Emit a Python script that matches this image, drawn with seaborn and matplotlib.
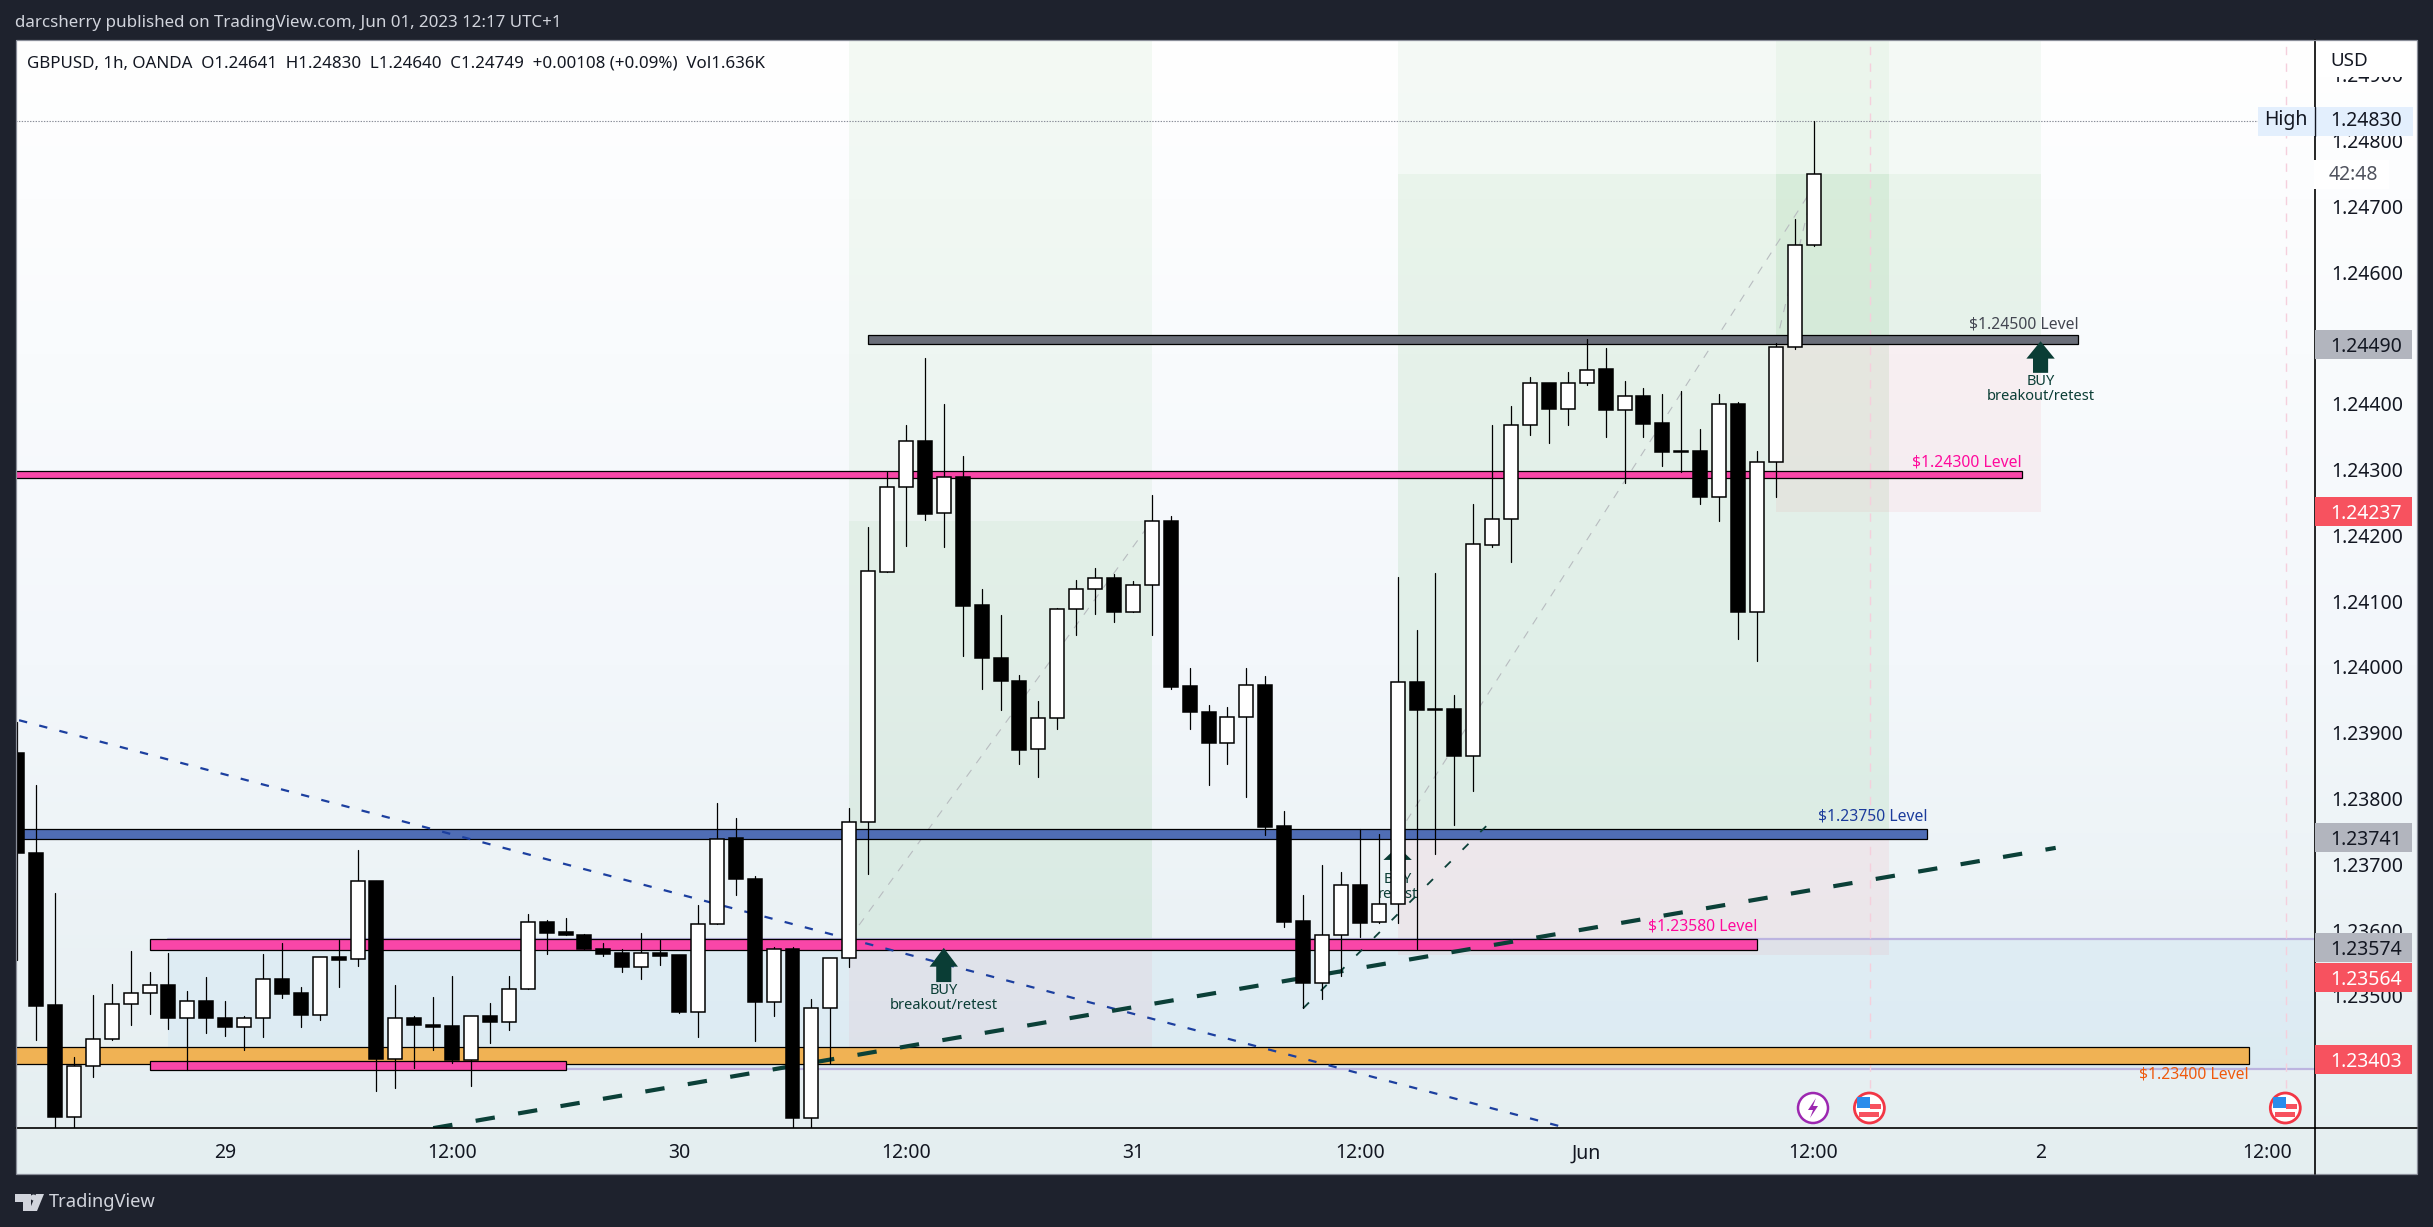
import numpy as np
import pandas as pd
import matplotlib
matplotlib.use("Agg")
import matplotlib.pyplot as plt
from matplotlib.patches import Rectangle, Circle, Polygon
import seaborn as sns

# hourly candles, bar 0 is 29 May 00:00
bars = list(range(-11, 85))
opens = [1.23869, 1.23717, 1.23486, 1.23316, 1.23394, 1.23435, 1.23487, 1.23505, 1.23516, 1.23467, 1.23492,
         1.23467, 1.23453, 1.23467, 1.23525, 1.23504, 1.23471, 1.23559, 1.23556, 1.23674, 1.23404, 1.23466, 1.23456,
         1.23454, 1.23403, 1.23469, 1.23461, 1.23511, 1.23613, 1.23597, 1.23592, 1.23571, 1.23565, 1.23544, 1.23565,
         1.23562, 1.23476, 1.23610, 1.23740, 1.23677, 1.23491, 1.23571, 1.23315, 1.23481, 1.23557, 1.23764, 1.24145,
         1.24273, 1.24343, 1.24234, 1.24289, 1.24094, 1.24013, 1.23978, 1.23875, 1.23922, 1.24088, 1.24118, 1.24135,
         1.24083, 1.24124, 1.24222, 1.23971, 1.23931, 1.23884, 1.23924, 1.23972, 1.23758, 1.23614, 1.23520, 1.23593,
         1.23668, 1.23612, 1.23639, 1.23977, 1.23936, 1.23936, 1.23865, 1.24186, 1.24225, 1.24368, 1.24432, 1.24392,
         1.24431, 1.24453, 1.24391, 1.24412, 1.24371, 1.24328, 1.24328, 1.24259, 1.24399, 1.24083, 1.24311, 1.24487,
         1.24641]
closes = [1.23717, 1.23485, 1.23316, 1.23394, 1.23435, 1.23487, 1.23505, 1.23516, 1.23467, 1.23492, 1.23467,
          1.23453, 1.23467, 1.23525, 1.23503, 1.23471, 1.23559, 1.23555, 1.23674, 1.23404, 1.23466, 1.23455, 1.23453,
          1.23403, 1.23469, 1.23461, 1.23511, 1.23613, 1.23596, 1.23592, 1.23571, 1.23564, 1.23544, 1.23565, 1.23561,
          1.23476, 1.23610, 1.23738, 1.23677, 1.23491, 1.23571, 1.23315, 1.23481, 1.23557, 1.23764, 1.24146, 1.24273,
          1.24343, 1.24233, 1.24289, 1.24093, 1.24013, 1.23978, 1.23874, 1.23922, 1.24088, 1.24118, 1.24135, 1.24083,
          1.24124, 1.24222, 1.23970, 1.23931, 1.23884, 1.23924, 1.23972, 1.23757, 1.23613, 1.23520, 1.23593, 1.23668,
          1.23611, 1.23639, 1.23977, 1.23934, 1.23934, 1.23865, 1.24187, 1.24225, 1.24368, 1.24432, 1.24392, 1.24432,
          1.24452, 1.24390, 1.24412, 1.24370, 1.24326, 1.24326, 1.24259, 1.24399, 1.24083, 1.24311, 1.24487, 1.24641,
          1.24749]
highs = [1.23917, 1.23821, 1.23657, 1.23407, 1.23501, 1.23518, 1.23568, 1.23537, 1.23565, 1.23507, 1.23528,
         1.23492, 1.23469, 1.23564, 1.23580, 1.23513, 1.23559, 1.23585, 1.23722, 1.23674, 1.23516, 1.23469, 1.23499,
         1.23530, 1.23469, 1.23489, 1.23530, 1.23624, 1.23615, 1.23618, 1.23594, 1.23580, 1.23572, 1.23595, 1.23585,
         1.23562, 1.23638, 1.23793, 1.23771, 1.23682, 1.23574, 1.23574, 1.23495, 1.23557, 1.23785, 1.24213, 1.24296,
         1.24367, 1.24469, 1.24400, 1.24321, 1.24119, 1.24079, 1.23988, 1.23948, 1.24090, 1.24132, 1.24151, 1.24141,
         1.24131, 1.24262, 1.24230, 1.23999, 1.23942, 1.23939, 1.23999, 1.23986, 1.23781, 1.23653, 1.23699, 1.23689,
         1.23753, 1.23746, 1.24137, 1.24056, 1.24143, 1.23958, 1.24248, 1.24368, 1.24397, 1.24441, 1.24432, 1.24449,
         1.24499, 1.24485, 1.24434, 1.24424, 1.24415, 1.24419, 1.24362, 1.24415, 1.24403, 1.24328, 1.24493, 1.24681,
         1.24830]
lows = [1.23554, 1.23433, 1.23281, 1.23281, 1.23376, 1.23433, 1.23455, 1.23472, 1.23450, 1.23388, 1.23444,
        1.23439, 1.23417, 1.23438, 1.23497, 1.23452, 1.23463, 1.23514, 1.23545, 1.23356, 1.23360, 1.23391, 1.23418,
        1.23398, 1.23363, 1.23429, 1.23448, 1.23511, 1.23564, 1.23592, 1.23571, 1.23560, 1.23537, 1.23526, 1.23547,
        1.23474, 1.23438, 1.23610, 1.23653, 1.23432, 1.23469, 1.23281, 1.23281, 1.23397, 1.23544, 1.23686, 1.24145,
        1.24184, 1.24224, 1.24183, 1.24017, 1.23967, 1.23934, 1.23853, 1.23832, 1.23906, 1.24048, 1.24081, 1.24069,
        1.24083, 1.24049, 1.23967, 1.23905, 1.23821, 1.23853, 1.23803, 1.23745, 1.23604, 1.23481, 1.23496, 1.23530,
        1.23590, 1.23611, 1.23611, 1.23571, 1.23716, 1.23759, 1.23812, 1.24183, 1.24160, 1.24353, 1.24341, 1.24368,
        1.24429, 1.24350, 1.24279, 1.24349, 1.24305, 1.24297, 1.24248, 1.24222, 1.24042, 1.24009, 1.24258, 1.24483,
        1.24640]

# time axis
time_ticks = [0, 12, 24, 36, 48, 60, 72, 84, 96, 108]
time_labels = ["29", "12:00", "30", "12:00", "31", "12:00", "Jun", "12:00", "2", "12:00"]
price_ticks = [1.235, 1.236, 1.237, 1.238, 1.239, 1.240, 1.241, 1.242, 1.243, 1.244, 1.245, 1.246, 1.247, 1.248, 1.249]

# horizontal level boxes: first bar, last bar, top, bottom
level_names = ["grey", "pink_hi", "blue", "pink_mid", "orange", "pink_lo"]
level_start = [34, -12, -12, -4, -12, -4]
level_end = [98, 95, 90, 81, 107, 18]
level_top = [1.24504, 1.24298, 1.23753, 1.23586, 1.23423, 1.23401]
level_bottom = [1.24491, 1.24287, 1.23739, 1.23570, 1.23396, 1.23388]
level_colors = ["#6a6e79", "#f946a8", "#4f6db5", "#f946a8", "#f0b254", "#f946a8"]
level_text = ["$1.24500 Level", "$1.24300 Level", "$1.23750 Level", "$1.23580 Level", "$1.23400 Level"]
level_text_price = [1.24521, 1.24311, 1.23773, 1.23605, 1.23380]
level_text_colors = ["#434651", "#ff0a9c", "#1c3c9c", "#ff0a9c", "#ef5a0c"]

# axis tags on the price scale
tag_values = ["1.24490", "1.24237", "1.23741", "1.23574", "1.23564", "1.23403"]
tag_prices = [1.24490, 1.24237, 1.23741, 1.23574, 1.23528, 1.23403]
tag_fill = ["#b2b5be", "#f7525f", "#b2b5be", "#b2b5be", "#f7525f", "#f7525f"]
tag_text = ["#131722", "white", "#131722", "#131722", "white", "white"]

W, H = 2433, 1227
LEFT, RIGHT, TOP, BOTTOM = 16, 2315, 40, 1128
PANEL_R, PANEL_B = 2417, 1174
BG = "#1e222d"
INK = "#131722"
FONT = "Noto Sans"

sns.set_theme(style="white")
plt.rcParams["font.family"] = [FONT, "DejaVu Sans"]
plt.rcParams["lines.scale_dashes"] = False

fig = plt.figure(figsize=(W / 100, H / 100), dpi=100, facecolor=BG)

# gradient panel behind everything
bg = fig.add_axes([LEFT / W, 1 - PANEL_B / H, (PANEL_R - LEFT) / W, (PANEL_B - TOP) / H], zorder=0)
stops = np.array([[255, 255, 255], [243, 247, 251], [228, 238, 240]]) / 255
t = np.linspace(0, 1, 256)
grad = np.stack([np.interp(t, [0, 0.55, 1], stops[:, c]) for c in range(3)], axis=1)[:, None, :]
bg.imshow(grad, aspect="auto", extent=[0, 1, 0, 1])
bg.set_axis_off()

ax = fig.add_axes([LEFT / W, 1 - BOTTOM / H, (RIGHT - LEFT) / W, (BOTTOM - TOP) / H], zorder=1)
ax.patch.set_alpha(0)
ax.set_axisbelow(True)
dx = 18.91
ax.set_xlim((LEFT - 225.2) / dx, (RIGHT - 225.2) / dx)
ax.set_ylim(1.232992, 1.249529)

# blue band between the two purple lines
ax.fill_between([-3, 112], 1.23389, 1.23587, color="#2196f3", alpha=0.055, lw=0, zorder=1)
for lvl in [1.23587, 1.23389]:
    ax.plot([-3, 112], [lvl, lvl], color="#bcb4e0", lw=1.6, zorder=1.2)

# long position tools
green, red = "#4caf50", "#f23645"
ax.fill_between([33, 49], 1.23587, 1.2496, color=green, alpha=0.06, lw=0, zorder=1.1)
ax.fill_between([33, 49], 1.23587, 1.24222, color=green, alpha=0.05, lw=0, zorder=1.1)
ax.fill_between([33, 49], 1.23400, 1.23587, color=red, alpha=0.05, lw=0, zorder=1.1)
ax.fill_between([62, 88], 1.23745, 1.2496, color=green, alpha=0.05, lw=0, zorder=1.1)
ax.fill_between([62, 88], 1.23745, 1.24749, color=green, alpha=0.06, lw=0, zorder=1.1)
ax.fill_between([62, 88], 1.23562, 1.23745, color=red, alpha=0.06, lw=0, zorder=1.1)
ax.fill_between([82, 96], 1.24490, 1.2496, color=green, alpha=0.05, lw=0, zorder=1.1)
ax.fill_between([82, 96], 1.24490, 1.24749, color=green, alpha=0.06, lw=0, zorder=1.1)
ax.fill_between([82, 96], 1.24235, 1.24490, color=red, alpha=0.06, lw=0, zorder=1.1)

# diagonals inside the position tools
for xs, ys in [([33, 49], [1.23587, 1.24222]), ([62, 84], [1.23745, 1.24730]), ([82, 84], [1.24490, 1.24730])]:
    sns.lineplot(x=xs, y=ys, ax=ax, color="#b8bcc0", lw=0.8, linestyle=(0, (6, 6)), zorder=1.3, sort=False)

# event lines
for bar in [87, 109]:
    ax.plot([bar, bar], [1.2336, 1.2496], color="#f5cfdc", lw=1, linestyle=(0, (6, 6)), zorder=1.3)

# hourly high dotted line
ax.plot([-12, 107.5], [1.2483, 1.2483], color="#8a8e99", lw=0.8, linestyle=(0, (1, 1)), zorder=1.4)

# level boxes
for i in range(len(level_names)):
    ax.add_patch(Rectangle((level_start[i], level_bottom[i]), level_end[i] - level_start[i],
                           level_top[i] - level_bottom[i], fc=level_colors[i], ec="black", lw=0.9, zorder=1.6))
text_ends = [98, 95, 90, 81, 107]
for i in range(5):
    ax.text(text_ends[i], level_text_price[i], level_text[i], color=level_text_colors[i], fontsize=11.3,
            ha="right", va="center", zorder=1.7)

# trend lines
sns.lineplot(x=[-10.9, 70.7], y=[1.23919, 1.23301], ax=ax, color="#1c3f9f", lw=1.6,
             linestyle=(0, (6, 9)), zorder=1.8, sort=False)
sns.lineplot(x=[11, 96.8], y=[1.23299, 1.23725], ax=ax, color="#0b4038", lw=3,
             linestyle=(0, (14, 17)), zorder=1.8, sort=False)
sns.lineplot(x=[57, 67], y=[1.23481, 1.23767], ax=ax, color="#0b4038", lw=1.3,
             linestyle=(0, (6, 12)), zorder=1.8, sort=False)

# BUY arrows, the middle one sits behind the candles
arrow_bars = [38, 62, 96]
arrow_tips = [1.23573, 1.23727, 1.24495]
arrow_low = [1.23521, 1.23690, 1.24447]
for i in range(3):
    b, tip, low = arrow_bars[i], arrow_tips[i], arrow_low[i]
    neck = tip - (tip - low) * 0.55
    ax.add_patch(Polygon([(b, tip), (b + 0.75, neck), (b + 0.4, neck), (b + 0.4, low), (b - 0.4, low),
                          (b - 0.4, neck), (b - 0.75, neck)], fc="#0a3d35", ec="none", zorder=1.9))
    ax.text(b, low - 0.00013, "BUY", color="#0a3d35", fontsize=10.5, ha="center", va="center", zorder=1.9)
    ax.text(b, low - 0.00036, "retest" if i == 1 else "breakout/retest", color="#0a3d35", fontsize=10.5,
            ha="center", va="center", zorder=1.9)

# candles: wicks through seaborn, bodies as bars on top
wicks = pd.DataFrame({"bar": bars * 2, "price": highs + lows})
sns.lineplot(data=wicks, x="bar", y="price", units="bar", estimator=None, ax=ax, color="black",
             lw=0.9, zorder=2.5, legend=False)
bottoms = np.minimum(opens, closes)
heights = np.abs(np.array(closes) - np.array(opens))
body_colors = ["white" if c > o else "black" for o, c in zip(opens, closes)]
ax.bar(bars, heights, bottom=bottoms, width=0.74, color=body_colors, edgecolor="black", lw=1.1, zorder=2.6)

# axes and ticks
ax.set_xlabel("")
ax.set_ylabel("")
ax.set_xticks(time_ticks)
ax.set_xticklabels(time_labels)
ax.yaxis.tick_right()
ax.set_yticks(price_ticks)
ax.set_yticklabels([f"{p:.5f}" for p in price_ticks])
ax.tick_params(axis="x", length=0, pad=11, labelsize=14, colors=INK)
ax.tick_params(axis="y", length=0, pad=12, labelsize=14, colors=INK)
ax.set_ylim(1.232992, 1.249529)
ax.grid(False)
for side in ["top", "left"]:
    ax.spines[side].set_visible(False)
for side in ["right", "bottom"]:
    ax.spines[side].set_color("black")
    ax.spines[side].set_linewidth(1.2)

# price tags
yaxis_tf = ax.get_yaxis_transform()
tag_w = 97 / (RIGHT - LEFT)
tag_h = 29 / 65790
for val, p, fill, col in zip(tag_values, tag_prices, tag_fill, tag_text):
    ax.add_patch(Rectangle((1, p - tag_h / 2), tag_w, tag_h, transform=yaxis_tf, fc=fill, ec="none",
                           clip_on=False, zorder=5))
    ax.text(1 + 15 / (RIGHT - LEFT), p, val, transform=yaxis_tf, color=col, fontsize=14, va="center_baseline",
            ha="left", clip_on=False, zorder=6)

# overlay in pixels for chrome, labels and icons
ov = fig.add_axes([0, 0, 1, 1], zorder=2)
ov.set_xlim(0, W)
ov.set_ylim(H, 0)
ov.set_axis_off()
ov.patch.set_alpha(0)

# panel frame and axis extensions
ov.add_patch(Rectangle((LEFT, TOP), PANEL_R - LEFT, PANEL_B - TOP, fc="none", ec="#8a8e99", lw=0.9))
ov.plot([RIGHT, RIGHT], [BOTTOM, PANEL_B], color="black", lw=1.2)
ov.plot([RIGHT, PANEL_R], [BOTTOM, BOTTOM], color="black", lw=1.2)

ov.text(15, 23, "darcsherry published on TradingView.com, Jun 01, 2023 12:17 UTC+1", color="#d1d4dc",
        fontsize=12.2, va="center", ha="left")
ov.text(27, 63, "GBPUSD, 1h, OANDA  O1.24641  H1.24830  L1.24640  C1.24749  +0.00108 (+0.09%)  Vol1.636K",
        color=INK, fontsize=12.2, va="center", ha="left")

# USD, countdown and high tag
ov.add_patch(Rectangle((RIGHT + 1, TOP + 2), 95, 35, fc="white", ec="none"))
ov.text(2330, 60.5, "USD", color=INK, fontsize=13.5, va="center", ha="left")
ov.add_patch(Rectangle((RIGHT - 1, 160), 75, 29, fc="white", ec="none"))
ov.text(2329, 175, "42:48", color="#50535e", fontsize=14, va="center", ha="left")
ov.add_patch(Rectangle((2258, 107), 155, 29, fc="#e3effd", ec="none"))
ov.plot([RIGHT, RIGHT], [107, 136], color="#131722", lw=1)
ov.text(2286, 120.5, "High", color=INK, fontsize=14, va="center", ha="center")
ov.text(2330, 120.5, "1.24830", color=INK, fontsize=14, va="center", ha="left")

# calendar icons
ov.add_patch(Circle((1813, 1108), 15, fc="white", ec="#9c27b0", lw=1.8))
ov.add_patch(Polygon([(1816, 1098), (1808, 1110), (1813, 1110), (1810, 1118), (1818, 1106), (1813, 1106)],
                     fc="#9c27b0", ec="none"))
for cx in [1869.4, 2285.3]:
    ov.add_patch(Circle((cx, 1108), 15, fc="white", ec="#f23645", lw=2))
    ov.add_patch(Rectangle((cx - 12, 1097), 13, 11, fc="#2a8ceb", ec="none"))
    ov.add_patch(Rectangle((cx + 1, 1104), 11, 5, fc="#f7525f", ec="none"))
    ov.add_patch(Rectangle((cx - 10, 1112), 20, 5, fc="#f7525f", ec="none"))

# TradingView logo
ov.add_patch(Polygon([(15, 1194), (31, 1194), (31, 1211), (23, 1211), (23, 1202), (15, 1202)], fc="#d1d4dc", ec="none"))
ov.add_patch(Circle((33.5, 1197.5), 3, fc="#d1d4dc", ec="none"))
ov.add_patch(Polygon([(36, 1194), (44, 1194), (37, 1211), (29, 1211)], fc="#d1d4dc", ec="none"))
ov.text(49, 1202, "TradingView", color="#d1d4dc", fontsize=13.2, va="center", ha="left")

fig.savefig("out.png", dpi=100, facecolor=BG)
